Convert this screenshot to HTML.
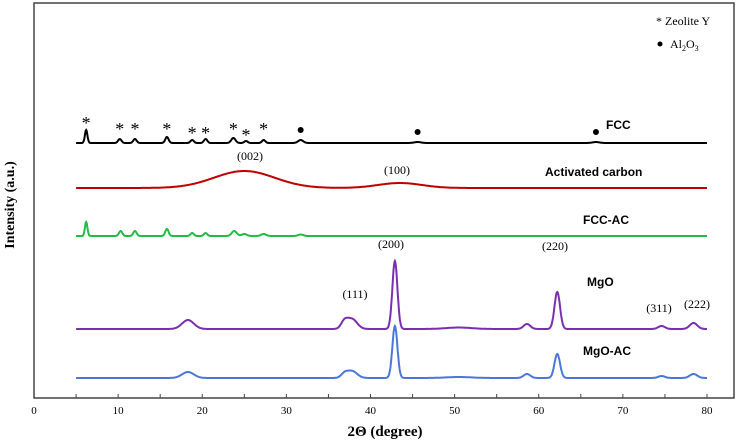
<!DOCTYPE html>
<html><head><meta charset="utf-8">
<style>
body{margin:0;background:#fff}
svg{display:block}
.serif{font-family:"Liberation Serif",serif}
.sans{font-family:"Liberation Sans",sans-serif;font-weight:bold}
</style></head>
<body>
<svg width="750" height="443" viewBox="0 0 750 443">
<rect x="34" y="3" width="700" height="395" fill="none" stroke="#444" stroke-width="1.5"/>
<g id="ticks"></g>
<g id="series"></g>
<g id="labels"></g>
<text x="14" y="205" transform="rotate(-90 14 205)" text-anchor="middle" class="serif" font-weight="bold" font-size="14">Intensity (a.u.)</text>
<text x="385" y="436" text-anchor="middle" class="serif" font-weight="bold" font-size="15">2Θ (degree)</text>
<g>
<text x="656" y="25" class="serif" font-size="12">*  Zeolite Y</text>
<circle cx="660" cy="44" r="2.5" fill="#000"/>
<text x="670" y="48" class="serif" font-size="12">Al<tspan font-size="8" dy="3">2</tspan><tspan dy="-3">O</tspan><tspan font-size="8" dy="3">3</tspan></text>
</g>
</svg>
<script>
const xTicks=[0,10,20,30,40,50,60,70,80];
const seriesNames=["FCC","Activated carbon","FCC-AC","MgO","MgO-AC"];
const seriesColors=["#000000","#c00000","#22bb44","#7a2fb0","#4a78d8"];
const baselines=[143,188,236,329,378];
// peaks: [2theta, height(px), width]
const fccPeaks=[[6.2,13,0.15],[10.2,4,0.2],[12,4,0.2],[15.8,6,0.2],[18.8,3,0.2],[20.4,4,0.2],[23.7,5,0.25],[25.2,2,0.2],[27.3,3,0.2],[31.7,3,0.3],[45.6,1,0.4],[66.8,1,0.4]];
const acPeaks=[[25,17,3.6],[43.5,5,2.6]];
const fccacPeaks=[[6.2,14,0.15],[10.3,5,0.2],[12,5,0.2],[15.8,7,0.2],[18.8,3,0.2],[20.4,3,0.2],[23.8,5,0.3],[25,2,0.3],[27.3,2,0.3],[31.7,1.5,0.3]];
const mgoPeaks=[[18.3,9,0.7],[36.9,7,0.4],[37.8,10,0.6],[42.9,68,0.3],[50.5,1.5,1.5],[58.6,5,0.4],[62.2,37,0.33],[74.6,3,0.4],[78.4,6,0.45]];
const mgoacPeaks=[[18.3,6,0.7],[36.9,4,0.4],[37.8,7,0.6],[42.9,52,0.3],[50.5,1,1.5],[58.6,4,0.4],[62.2,24,0.33],[74.6,2,0.4],[78.4,4,0.45]];
const allPeaks=[fccPeaks,acPeaks,fccacPeaks,mgoPeaks,mgoacPeaks];
const seriesLabels=[["FCC",606,129],["Activated carbon",545,176],["FCC-AC",583,224],["MgO",587,286],["MgO-AC",583,355]];
const peakLabels=[["(002)",250,160],["(100)",397,174],["(200)",391,248],["(111)",355,298],["(220)",555,250],["(311)",659,312],["(222)",697,308]];
const starMarks=[[6.2,123],[10.2,129],[12,129],[15.8,129],[18.8,133],[20.4,133],[23.7,129],[25.2,135],[27.3,129]];
const dotMarks=[[31.7,130],[45.6,132],[66.8,132]];
const xMin=0,xMax=80,px0=34,px1=707;
const X=v=>px0+(v-xMin)*(px1-px0)/(xMax-xMin);
const NS="http://www.w3.org/2000/svg";
const tg=document.getElementById('ticks');
for(let v=0;v<=80;v+=5){const l=document.createElementNS(NS,'line');l.setAttribute('x1',X(v));l.setAttribute('x2',X(v));l.setAttribute('y1',398);l.setAttribute('y2',394);l.setAttribute('stroke','#444');


tg.appendChild(l);}
xTicks.forEach(v=>{const t=document.createElementNS(NS,'text');t.setAttribute('x',X(v));t.setAttribute('y',414);t.setAttribute('text-anchor','middle');t.setAttribute('class','serif');t.setAttribute('font-size','11');t.textContent=v;


tg.appendChild(t);});
const sg=document.getElementById('series');
allPeaks.forEach((pk,i)=>{let d='';for(let x=5;x<=80;x+=0.05){let y=0;pk.forEach(p=>{y+=p[1]*Math.exp(-((x-p[0])**2)/(2*p[2]*p[2]));});d+=(d?'L':'M')+X(x).toFixed(1)+','+(baselines[i]-y).toFixed(1);}
const path=document.createElementNS(NS,'path');path.setAttribute('d',d);path.setAttribute('fill','none');path.setAttribute('stroke',seriesColors[i]);path.setAttribute('stroke-width','2');


sg.appendChild(path);});
const lg=document.getElementById('labels');
seriesLabels.forEach(s=>{const t=document.createElementNS(NS,'text');t.setAttribute('x',s[1]);t.setAttribute('y',s[2]);t.setAttribute('class','sans');t.setAttribute('font-size','12');t.textContent=s[0];


lg.appendChild(t);});
peakLabels.forEach(s=>{const t=document.createElementNS(NS,'text');t.setAttribute('x',s[1]);t.setAttribute('y',s[2]);t.setAttribute('text-anchor','middle');t.setAttribute('class','serif');t.setAttribute('font-size','12');t.textContent=s[0];


lg.appendChild(t);});
starMarks.forEach(s=>{const t=document.createElementNS(NS,'text');t.setAttribute('x',X(s[0]));t.setAttribute('y',s[1]+6);t.setAttribute('text-anchor','middle');t.setAttribute('class','serif');t.setAttribute('font-size','18');t.textContent='*';


lg.appendChild(t);});
dotMarks.forEach(s=>{const c=document.createElementNS(NS,'circle');c.setAttribute('cx',X(s[0]));c.setAttribute('cy',s[1]);c.setAttribute('r','3');c.setAttribute('fill','#000');


lg.appendChild(c);});
</script>
</body></html>
